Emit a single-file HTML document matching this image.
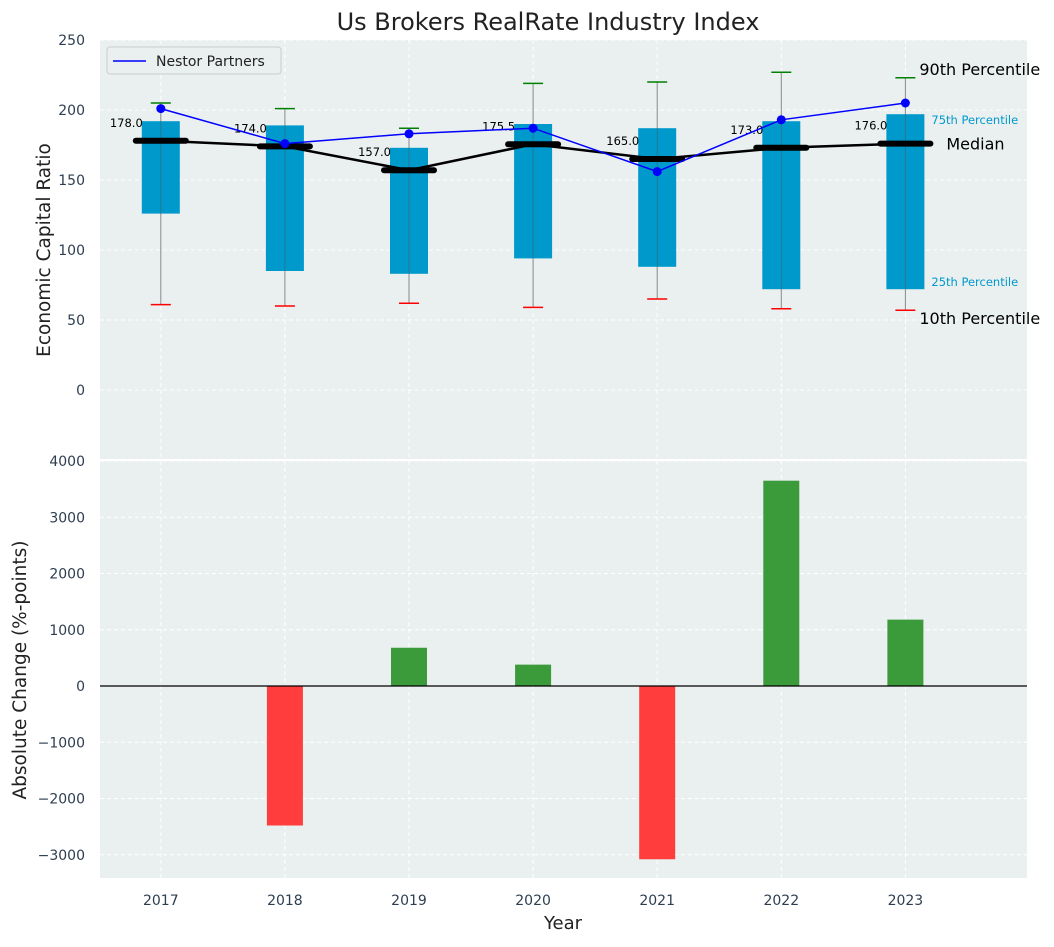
<!DOCTYPE html>
<html><head><meta charset="utf-8">
<style>
body{margin:0;background:#fff;font-family:"Liberation Sans","DejaVu Sans",sans-serif;}
svg text{font-family:"DejaVu Sans","Liberation Sans",sans-serif;}
</style></head>
<body>
<svg id="chart" width="1054" height="942" xmlns="http://www.w3.org/2000/svg"></svg>
<script>
const years=[2017,2018,2019,2020,2021,2022,2023];
const p10=[61,60,62,59,65,58,57];
const q1=[126,85,83,94,88,72,72];
const medians=[178,174,157,175.5,165,173,176];
const q3=[192,189,173,190,187,192,197];
const p90=[205,201,187,219,220,227,223];
const nestor=[201,176,183,187,156,193,205];
const changes=[0,-2480,680,380,-3080,3650,1180];
const topTicks=[0,50,100,150,200,250];
const botTicks=[-3000,-2000,-1000,0,1000,2000,3000,4000];

const NS="http://www.w3.org/2000/svg";
const svg=document.getElementById('chart');
function el(tag,attrs,parent){const e=document.createElementNS(NS,tag);for(const k in attrs)e.setAttribute(k,attrs[k]);(parent||svg).appendChild(e);return e;}
const L=100,R=1027;
const x=v=>L+(v-2016.51)/(2023.98-2016.51)*(R-L);
const yT=v=>390-v*1.4;
const yB=v=>686-v*0.05625;

let bg=el('rect',{x:L,y:40,width:R-L,height:419,fill:'#eaeff0'});

let bg2=el('rect',{x:L,y:461,width:R-L,height:417,fill:'#eaeff0'});


years.forEach(yr=>{
  el('line',{x1:x(yr),x2:x(yr),y1:40,y2:459,stroke:'#fff','stroke-dasharray':'4,3','stroke-width':1});
  el('line',{x1:x(yr),x2:x(yr),y1:461,y2:878,stroke:'#fff','stroke-dasharray':'4,3','stroke-width':1});
  const t=el('text',{x:x(yr),y:905,'text-anchor':'middle','font-size':14,fill:'#2e3e50'});t.textContent=yr;
  
});
topTicks.forEach(v=>{
  el('line',{x1:L,x2:R,y1:yT(v),y2:yT(v),stroke:'#fff','stroke-dasharray':'4,3'});
  const t=el('text',{x:85,y:yT(v)+5,'text-anchor':'end','font-size':14,fill:'#2e3e50'});t.textContent=v;
  
});
botTicks.forEach(v=>{
  el('line',{x1:L,x2:R,y1:yB(v),y2:yB(v),stroke:'#fff','stroke-dasharray':'4,3'});
  const t=el('text',{x:85,y:yB(v)+5,'text-anchor':'end','font-size':14,fill:'#2e3e50'});t.textContent=(v<0?'\u2212'+(-v):v);
  
});

years.forEach((yr,i)=>{
  const cx=x(yr);
  const w=el('line',{x1:cx,x2:cx,y1:yT(p90[i]),y2:yT(p10[i]),stroke:'#888','stroke-width':1});
  
  const b=el('rect',{x:cx-19,y:yT(q3[i]),width:38,height:yT(q1[i])-yT(q3[i]),fill:'#0099cc'});
  
  el('line',{x1:cx,x2:cx,y1:yT(q3[i]),y2:yT(q1[i]),stroke:'#555','stroke-width':0.8,opacity:0.6});
  const c1=el('line',{x1:cx-10,x2:cx+10,y1:yT(p90[i]),y2:yT(p90[i]),stroke:'green','stroke-width':1.5});
  
  const c2=el('line',{x1:cx-10,x2:cx+10,y1:yT(p10[i]),y2:yT(p10[i]),stroke:'red','stroke-width':1.5});
  
});
let mp=years.map((yr,i)=>x(yr)+','+yT(medians[i])).join(' ');
let ml=el('polyline',{points:mp,fill:'none',stroke:'#000','stroke-width':2.5});

years.forEach((yr,i)=>{
  const cx=x(yr);
  const m=el('line',{x1:cx-25,x2:cx+25,y1:yT(medians[i]),y2:yT(medians[i]),stroke:'#000','stroke-width':6,'stroke-linecap':'round'});
  
  const t=el('text',{x:cx-18,y:yT(medians[i])-14,'text-anchor':'end','font-size':11.5,fill:'#000'});t.textContent=medians[i].toFixed(1);
  
});
let np=years.map((yr,i)=>x(yr)+','+yT(nestor[i])).join(' ');
let nl=el('polyline',{points:np,fill:'none',stroke:'blue','stroke-width':1.5});

years.forEach((yr,i)=>{
  const c=el('circle',{cx:x(yr),cy:yT(nestor[i]),r:4.5,fill:'blue'});
  
});
const li=years.length-1, ax=x(years[li]);
function ann(txt,xx,yy,fs,col,name){const t=el('text',{x:xx,y:yy,'font-size':fs,fill:col});t.textContent=txt;}
ann('90th Percentile',ax+14,yT(p90[li])-3,16,'#000','p90-annotation');
ann('75th Percentile',ax+26,yT(q3[li])+10,11.5,'#0099cc','p75-annotation');
ann('Median',ax+41,yT(medians[li])+6,16,'#000','median-annotation');
ann('25th Percentile',ax+26,yT(q1[li])-3,11.5,'#0099cc','p25-annotation');
ann('10th Percentile',ax+14,yT(p10[li])+14,16,'#000','p10-annotation');

let lg=el('g',{});
el('rect',{x:107,y:47,width:174,height:27,rx:3,fill:'#eaeff0',stroke:'#ccc'},lg);
el('line',{x1:113,x2:146,y1:61,y2:61,stroke:'blue','stroke-width':1.5},lg);
let lt=el('text',{x:156,y:66,'font-size':14,fill:'#222'},lg);lt.textContent='Nestor Partners';

years.forEach((yr,i)=>{
  const v=changes[i];if(v===0)return;
  const y0=yB(Math.max(v,0)),h=Math.abs(yB(v)-yB(0));
  const b=el('rect',{x:x(yr)-18,y:y0,width:36,height:h,fill:v>=0?'#3b9b3b':'#ff3d3d'});
  
});
const zl=el('line',{x1:L,x2:R,y1:yB(0),y2:yB(0),stroke:'#000','stroke-width':1.2});


ann('Us Brokers RealRate Industry Index',0,0,24,'#222','chart-title');
const tt=svg.lastChild;tt.setAttribute('x',548);tt.setAttribute('y',30);tt.setAttribute('text-anchor','middle');
const xt=el('text',{x:563,y:929,'text-anchor':'middle','font-size':18,fill:'#222'});xt.textContent='Year';

const yt1=el('text',{x:0,y:0,'text-anchor':'middle','font-size':18.5,fill:'#222',transform:'translate(50,250) rotate(-90)'});yt1.textContent='Economic Capital Ratio';

const yt2=el('text',{x:0,y:0,'text-anchor':'middle','font-size':18.5,fill:'#222',transform:'translate(26,670) rotate(-90)'});yt2.textContent='Absolute Change (%-points)';

</script>
</body></html>
